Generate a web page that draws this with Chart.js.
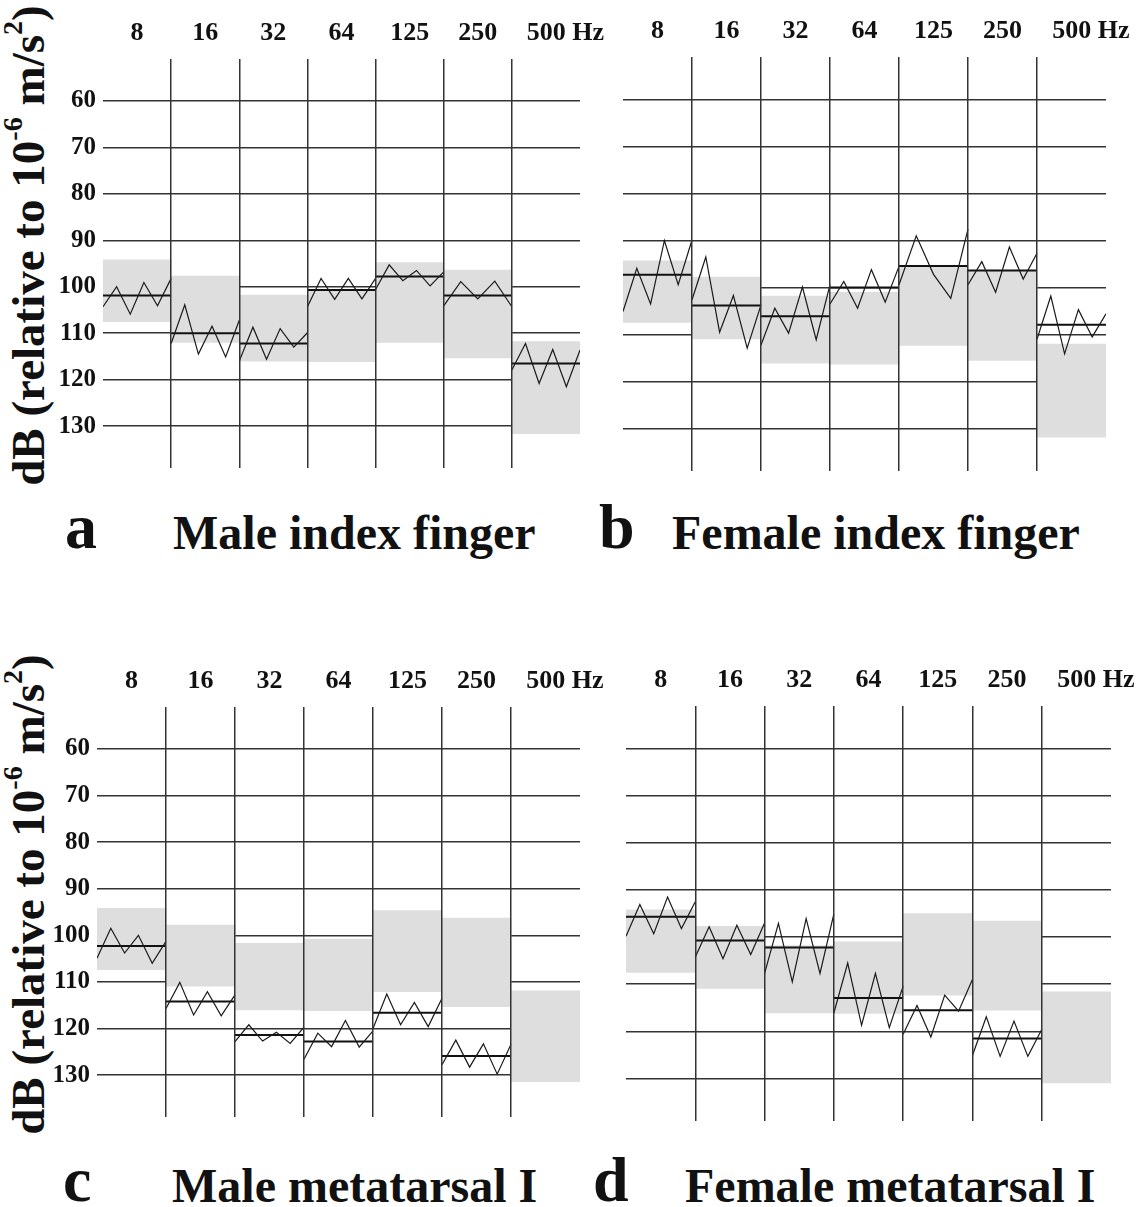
<!DOCTYPE html>
<html>
<head>
<meta charset="utf-8">
<script src="https://cdn.jsdelivr.net/npm/chart.js@4.4.1/dist/chart.umd.min.js"></script>
<style>
  body {
    margin: 0; width: 1136px; height: 1207px; overflow: hidden; background: #fff; position: relative;
    font-family: "Liberation Serif", "Times New Roman", serif; font-weight: bold; color: #111;
  }
  canvas { position: absolute; }
  .ytitle {
    position: absolute; width: 520px; height: 47px; line-height: 47px; font-size: 47px;
    text-align: center; white-space: nowrap; transform: rotate(-90deg);
  }
  .ytitle sup { font-size: 0.6em; line-height: 0; vertical-align: 0.75em; }
  .letter { position: absolute; font-size: 64px; line-height: 64px; }
  .name { position: absolute; font-size: 48px; line-height: 48px; white-space: nowrap; }
</style>
</head>
<body>

<div class="ytitle" style="left:-232px; top:222px">dB (relative to 10<sup>-6</sup> m/s<sup>2</sup>)</div>
<div class="ytitle" style="left:-232px; top:871px">dB (relative to 10<sup>-6</sup> m/s<sup>2</sup>)</div>

<canvas id="chartA" width="563" height="459" style="left:43px; top:14px"></canvas>
<canvas id="chartB" width="569" height="464" style="left:563px; top:12px"></canvas>
<canvas id="chartC" width="569" height="460" style="left:37px; top:662px"></canvas>
<canvas id="chartD" width="571" height="465" style="left:566px; top:661px"></canvas>

<div class="letter" style="left:65px; top:495px">a</div>
<div class="name" style="left:173px; top:509px">Male index finger</div>
<div class="letter" style="left:599px; top:495px">b</div>
<div class="name" style="left:672px; top:509px">Female index finger</div>
<div class="letter" style="left:63px; top:1148px">c</div>
<div class="name" style="left:172px; top:1162px">Male metatarsal I</div>
<div class="letter" style="left:593px; top:1148px">d</div>
<div class="name" style="left:685px; top:1162px">Female metatarsal I</div>

<script>
// ********** data ************
const bands = ["8", "16", "32", "64", "125", "250", "500 Hz"];
const yTicks = [60, 70, 80, 90, 100, 110, 120, 130];

// a - male index finger
const rangeA = [[94.2, 107.5], [97.7, 112.0], [101.8, 116.0], [100.7, 116.1], [94.8, 112.0], [96.4, 115.3], [111.8, 131.6]];
const meanA = [101.9, 110.0, 112.2, 100.7, 97.8, 101.9, 116.5];
const zigA = [
  [104.3, 100.0, 105.9, 99.1, 104.1, 98.2],
  [112.2, 103.9, 114.5, 108.5, 115.1, 107.2],
  [116.0, 108.7, 115.6, 109.0, 113.0, 109.9],
  [104.3, 98.2, 102.7, 98.2, 102.6, 98.2],
  [100.6, 95.3, 98.7, 96.5, 99.8, 96.8],
  [104.1, 98.9, 102.6, 98.8, 104.3],
  [117.9, 112.2, 120.8, 113.5, 121.5, 113.6],
];

// b - female index finger
const rangeB = [[94.3, 107.4], [97.8, 110.9], [101.8, 116.1], [101.0, 116.3], [95.5, 112.3], [96.4, 115.5], [112.0, 131.8]];
const meanB = [97.3, 103.8, 106.1, 100.0, 95.4, 96.4, 107.9];
const zigB = [
  [105.1, 95.9, 103.5, 90.0, 99.4, 89.9],
  [102.6, 93.5, 109.5, 101.7, 112.9, 103.7],
  [112.2, 104.4, 109.7, 99.9, 111.1, 99.4],
  [103.5, 98.7, 104.4, 96.2, 103.1, 95.5],
  [99.4, 89.0, 97.2, 102.3, 87.6],
  [99.4, 94.5, 101.0, 91.4, 98.2, 92.7],
  [111.0, 101.8, 114.1, 104.7, 110.5, 105.6],
];

// c - male metatarsal I
const rangeC = [[94.2, 107.4], [97.8, 110.9], [101.7, 116.0], [100.8, 116.2], [94.7, 112.1], [96.3, 115.3], [111.9, 131.4]];
const meanC = [102.3, 114.2, 121.4, 122.8, 116.6, 125.9, null];
const zigC = [
  [104.9, 98.5, 103.8, 100.0, 106.0, 101.3],
  [115.7, 110.1, 117.1, 112.1, 117.3, 112.8],
  [122.8, 119.2, 122.7, 120.8, 123.2, 119.7],
  [126.6, 121.0, 123.9, 118.3, 124.0, 120.5],
  [120.0, 112.6, 119.2, 114.4, 119.6, 113.5],
  [127.8, 122.5, 128.3, 123.3, 129.8, 123.4],
  [],
];

// d - female metatarsal I
const rangeD = [[94.2, 107.5], [97.7, 110.9], [101.8, 116.1], [101.0, 116.2], [95.0, 112.3], [96.6, 115.5], [111.6, 130.9]];
const meanD = [95.7, 100.7, 102.2, 112.9, 115.5, 121.5, null];
const zigD = [
  [99.8, 93.1, 99.3, 91.5, 98.2, 92.5],
  [104.2, 97.8, 104.6, 97.5, 103.7, 97.0],
  [107.7, 97.1, 109.5, 96.1, 107.7, 95.1],
  [116.1, 105.5, 118.7, 107.7, 119.2, 110.4],
  [120.6, 114.5, 121.2, 112.3, 115.7, 109.0],
  [125.1, 116.9, 125.3, 117.8, 125.3, 119.6],
  [],
];

// ********** helpers ************
Chart.defaults.font.family = "'Liberation Serif', 'Times New Roman', serif";
Chart.defaults.font.weight = "bold";
Chart.defaults.color = "#111";

// zigzag: points spread evenly across each band, gap between bands
function zigPoints(zig) {
  const pts = [];
  zig.forEach((vals, b) => {
    vals.forEach((v, i) => pts.push({ x: b + i / (vals.length - 1), y: v }));
    pts.push({ x: b + 1, y: null });
  });
  return pts;
}

// mean: one flat segment per band
function meanPoints(mean) {
  const pts = [];
  mean.forEach((v, b) => {
    if (v === null) return;
    pts.push({ x: b, y: v }, { x: b + 1, y: v }, { x: b + 1, y: null });
  });
  return pts;
}

function makeChart(id, range, mean, zig, showY) {
  return new Chart(document.getElementById(id), {
    type: "bar",
    data: {
      labels: bands,
      datasets: [
        {
          type: "line", xAxisID: "xl", yAxisID: "y", data: zigPoints(zig),
          borderColor: "#1a1a1a", borderWidth: 1.2, pointRadius: 0, tension: 0, spanGaps: false,
        },
        {
          type: "line", xAxisID: "xl", yAxisID: "y", data: meanPoints(mean),
          borderColor: "#111", borderWidth: 2, pointRadius: 0, tension: 0, spanGaps: false,
        },
        {
          type: "bar", xAxisID: "x", yAxisID: "y", data: range, grouped: false,
          backgroundColor: "#dedede", borderWidth: 0, barPercentage: 1, categoryPercentage: 1,
        },
      ],
    },
    options: {
      responsive: false,
      animation: false,
      layout: { padding: { left: 0, top: 0, right: 26, bottom: 5 } },
      plugins: { legend: { display: false }, tooltip: { enabled: false } },
      scales: {
        x: {
          type: "category",
          position: "top",
          offset: true,
          stacked: true,
          border: { display: false },
          grid: {
            offset: true,
            drawTicks: false,
            z: 1,
            lineWidth: 1.5,
            // only the inner band borders
            color: (ctx) => (ctx.type === "tick" && ctx.index > 0 ? "#333" : "rgba(0,0,0,0)"),
          },
          ticks: {
            autoSkip: false,
            maxRotation: 0,
            padding: 10,
            font: { size: 26 },
            // keep "500" centred over its band, "Hz" hangs to the right
            callback: (v, i) => (i === bands.length - 1 ? "      " + bands[i] : bands[i]),
          },
          afterFit: (s) => { s.height = 45; s.paddingLeft = 0; s.paddingRight = 0; },
        },
        xl: { type: "linear", axis: "x", min: 0, max: 7, offset: false, display: false },
        y: {
          type: "linear",
          reverse: true,
          min: 51,
          max: 139,
          border: { display: false },
          grid: { color: "#333", lineWidth: 1.5, drawTicks: false },
          ticks: { display: showY, padding: 7, font: { size: 25 } },
          afterBuildTicks: (s) => { s.ticks = yTicks.map((v) => ({ value: v })); },
          afterFit: (s) => { s.width = 60; s.paddingTop = 0; s.paddingBottom = 0; },
        },
      },
    },
  });
}

const chartA = makeChart("chartA", rangeA, meanA, zigA, true);
const chartB = makeChart("chartB", rangeB, meanB, zigB, false);
const chartC = makeChart("chartC", rangeC, meanC, zigC, true);
const chartD = makeChart("chartD", rangeD, meanD, zigD, false);
</script>
</body>
</html>
